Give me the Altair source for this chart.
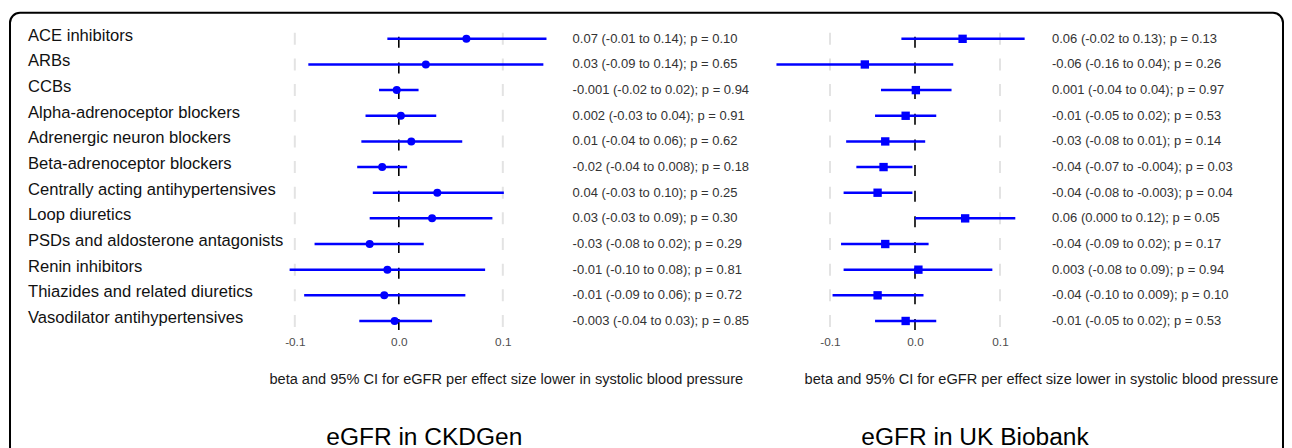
import altair as alt
import pandas as pd

drugs = [
    "ACE inhibitors", "ARBs", "CCBs", "Alpha-adrenoceptor blockers",
    "Adrenergic neuron blockers", "Beta-adrenoceptor blockers",
    "Centrally acting antihypertensives", "Loop diuretics",
    "PSDs and aldosterone antagonists", "Renin inhibitors",
    "Thiazides and related diuretics", "Vasodilator antihypertensives",
]

ckd_beta = [0.065, 0.026, -0.002, 0.002, 0.012, -0.016, 0.037, 0.032, -0.028, -0.011, -0.014, -0.004]
ckd_lo = [-0.011, -0.087, -0.019, -0.032, -0.036, -0.040, -0.025, -0.028, -0.081, -0.105, -0.091, -0.038]
ckd_hi = [0.142, 0.139, 0.019, 0.036, 0.061, 0.008, 0.101, 0.090, 0.024, 0.083, 0.064, 0.032]
ckd_text = [
    "0.07 (-0.01 to 0.14); p = 0.10", "0.03 (-0.09 to 0.14); p = 0.65",
    "-0.001 (-0.02 to 0.02); p = 0.94", "0.002 (-0.03 to 0.04); p = 0.91",
    "0.01 (-0.04 to 0.06); p = 0.62", "-0.02 (-0.04 to 0.008); p = 0.18",
    "0.04 (-0.03 to 0.10); p = 0.25", "0.03 (-0.03 to 0.09); p = 0.30",
    "-0.03 (-0.08 to 0.02); p = 0.29", "-0.01 (-0.10 to 0.08); p = 0.81",
    "-0.01 (-0.09 to 0.06); p = 0.72", "-0.003 (-0.04 to 0.03); p = 0.85",
]

ukb_beta = [0.056, -0.059, 0.001, -0.011, -0.035, -0.037, -0.044, 0.059, -0.035, 0.004, -0.044, -0.011]
ukb_lo = [-0.016, -0.163, -0.040, -0.047, -0.081, -0.069, -0.084, 0.000, -0.087, -0.084, -0.097, -0.047]
ukb_hi = [0.129, 0.045, 0.043, 0.025, 0.012, -0.003, -0.003, 0.118, 0.016, 0.091, 0.010, 0.025]
ukb_text = [
    "0.06 (-0.02 to 0.13); p = 0.13", "-0.06 (-0.16 to 0.04); p = 0.26",
    "0.001 (-0.04 to 0.04); p = 0.97", "-0.01 (-0.05 to 0.02); p = 0.53",
    "-0.03 (-0.08 to 0.01); p = 0.14", "-0.04 (-0.07 to -0.004); p = 0.03",
    "-0.04 (-0.08 to -0.003); p = 0.04", "0.06 (0.000 to 0.12); p = 0.05",
    "-0.04 (-0.09 to 0.02); p = 0.17", "0.003 (-0.08 to 0.09); p = 0.94",
    "-0.04 (-0.10 to 0.009); p = 0.10", "-0.01 (-0.05 to 0.02); p = 0.53",
]

ticks = [-0.1, 0.0, 0.1]
grid_vals = [-0.1, 0.1]
zero_vals = [0.0]
axis_title = "beta and 95% CI for eGFR per effect size lower in systolic blood pressure"
panel_titles = ["eGFR in CKDGen", "eGFR in UK Biobank"]

FONT = "Liberation Sans"
BLUE = "#0000ff"
STEP = 25.65
H = STEP * len(drugs)

ydef = alt.Y("drug:N", scale=alt.Scale(type="point", domain=drugs, padding=0.5), axis=None)

LABEL_EXPR = "datum.value < 0 ? '-' + format(-datum.value, '.1f') : format(datum.value, '.1f')"


def forest(beta, lo, hi, domain, width, shape, size, title_x, ptitle, ptitle_x):
    d = pd.DataFrame({"drug": drugs, "beta": beta, "lo": lo, "hi": hi})
    xs = alt.Scale(domain=domain, nice=False, zero=False)
    xaxis = alt.Axis(
        values=ticks, labelExpr=LABEL_EXPR, title=axis_title, ticks=False, domain=False,
        grid=False, labelFont=FONT, labelFontSize=11.8, labelColor="#4d4d4d",
        labelPadding=3, titleFont=FONT, titleFontSize=14.6, titleFontWeight="normal",
        titleColor="#1a1a1a", titleX=title_x, titleY=46, titleAlign="center",
        titleBaseline="middle",
    )
    grid = alt.Chart(pd.DataFrame({"v": grid_vals})).mark_rule(
        color="#e3e3e3", strokeWidth=2, strokeDash=[12, 13.65], strokeDashOffset=18.825
    ).encode(x=alt.X("v:Q", scale=xs, axis=xaxis), y=alt.value(0), y2=alt.value(H))
    zero = alt.Chart(pd.DataFrame({"v": zero_vals})).mark_rule(
        color="black", strokeWidth=1.6, strokeDash=[11, 14.65], strokeDashOffset=14.825
    ).encode(x=alt.X("v:Q", scale=xs, axis=xaxis), y=alt.value(0), y2=alt.value(H))
    ci = alt.Chart(d).mark_rule(color=BLUE, strokeWidth=2.5).encode(
        x=alt.X("lo:Q", scale=xs, axis=xaxis), x2="hi:Q", y=ydef
    )
    pt = alt.Chart(d).mark_point(shape=shape, filled=True, size=size, color=BLUE, opacity=1).encode(
        x=alt.X("beta:Q", scale=xs, axis=xaxis), y=ydef
    )
    ttl = alt.Chart(pd.DataFrame({"t": [ptitle]})).mark_text(
        font=FONT, fontSize=24.5, color="black", align="center", baseline="middle"
    ).encode(text="t:N", x=alt.value(ptitle_x), y=alt.value(411.8))
    return alt.layer(grid, zero, ci, pt, ttl).properties(width=width, height=H)


def annot(texts, x0, width):
    d = pd.DataFrame({"drug": drugs, "txt": texts})
    return alt.Chart(d).mark_text(
        align="left", baseline="middle", font=FONT, fontSize=13, color="#333333"
    ).encode(y=ydef, x=alt.value(x0), text="txt:N").properties(width=width, height=H)


lab_df = pd.DataFrame({"drug": drugs})
labels = alt.Chart(lab_df).mark_text(
    align="left", baseline="middle", font=FONT, fontSize=16.6, color="#111111", dy=-3
).encode(y=ydef, x=alt.value(0), text="drug:N")
frame = alt.Chart(pd.DataFrame({"k": [0]})).mark_rect(
    fill="white", fillOpacity=0, stroke="black", strokeWidth=2, cornerRadius=10
).encode(x=alt.value(-18), x2=alt.value(1255), y=alt.value(-13.2), y2=alt.value(434.8))
label_chart = alt.layer(frame, labels).properties(width=245.2, height=H)

left = forest(ckd_beta, ckd_lo, ckd_hi, [-0.12, 0.16], 291.2, "circle", 64, 231.8, panel_titles[0], 150.3)
left_ann = annot(ckd_text, 6.6, 195.6)
right = forest(ukb_beta, ukb_lo, ukb_hi, [-0.18, 0.14], 272, "square", 70, 279, panel_titles[1], 213)
right_ann = annot(ukb_text, 18, 240)

chart = alt.hconcat(
    label_chart, left, left_ann, right, right_ann, spacing=0, bounds="flush"
).properties(
    padding={"left": 1, "top": 3, "right": 0, "bottom": 0}
).configure_view(strokeWidth=0)

chart.save("out.html", embed_options={"renderer": "svg", "actions": False})
